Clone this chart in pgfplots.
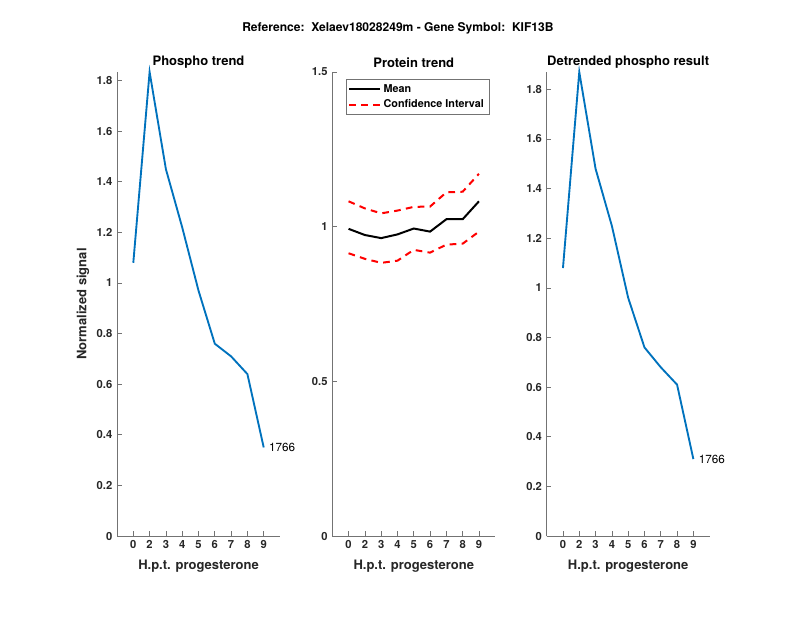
\documentclass[border=0pt]{standalone}
\usepackage{fontspec}
\setmainfont{TeX Gyre Heros}
\usepackage{pgfplots}
\pgfplotsset{compat=1.18}
\definecolor{matblue}{rgb}{0,0.447,0.741}
\definecolor{axgray}{rgb}{0.15,0.15,0.15}

\pgfplotsset{
  matpanel/.style={
    scale only axis, width=122.25pt, height=348pt,
    anchor=south west,
    axis lines*=left,
    axis line style={black!55, line width=0.5pt},
    tick align=inside, major tick length=3.5pt,
    tick style={black!55, line width=0.5pt},
    xmin=0, xmax=10, xtick={1,2,3,4,5,6,7,8,9},
    xticklabels={0,2,3,4,5,6,7,8,9},
    ymin=0, clip=false,
    /pgf/number format/assume math mode=true,
    ticklabel style={font=\bfseries\fontsize{8.4}{10}\selectfont, text=axgray},
    title style={font=\bfseries\fontsize{9.75}{11}\selectfont, text=black, yshift=-6.5pt},
    xlabel={H.p.t. progesterone},
    xlabel style={font=\bfseries\fontsize{9.75}{11}\selectfont, text=axgray,
      at={(axis description cs:0.5,0)}, anchor=center, yshift=-22.3pt},
  }
}

\begin{document}
\begin{tikzpicture}
\path (0,0) rectangle (600pt,463.5pt);

% phospho trend
\begin{axis}[matpanel, at={(87.75pt,61.5pt)},
  ymax=1.834, ytick={0,0.2,0.4,0.6,0.8,1,1.2,1.4,1.6,1.8},
  title={Phospho trend},
  ylabel={Normalized signal},
  ylabel style={font=\bfseries\fontsize{9.75}{11}\selectfont, text=axgray,
    at={(axis description cs:-0.209,0.5)}, anchor=center}]
\addplot[matblue, line width=1.4pt] coordinates {
  (1,1.08) (2,1.834) (3,1.45) (4,1.22) (5,0.97) (6,0.76) (7,0.71) (8,0.64) (9,0.35)}
  node[pos=1, anchor=west, xshift=0pt, font=\fontsize{8.8}{10}\selectfont, text=black] {1766};
\end{axis}

% protein trend
\begin{axis}[matpanel, at={(249.2pt,61.5pt)},
  ymax=1.5, ytick={0,0.5,1,1.5},
  title={Protein trend},
  legend style={at={(0.082,0.985)}, anchor=north west, draw=black!55,
    font=\bfseries\fontsize{8.1}{9.5}\selectfont, inner sep=1.8pt, row sep=0pt},
  legend cell align=left,
  legend image code/.code={\draw[#1] (0pt,0pt) -- (23pt,0pt);}]
\addplot[black, line width=1.5pt] coordinates {
  (1,0.993) (2,0.973) (3,0.963) (4,0.975) (5,0.994) (6,0.984) (7,1.024) (8,1.024) (9,1.082)};
\addlegendentry{Mean}
\addplot[red, line width=1.5pt, dash pattern=on 5pt off 4pt] coordinates {
  (1,1.082) (2,1.059) (3,1.043) (4,1.052) (5,1.064) (6,1.065) (7,1.111) (8,1.113) (9,1.171)};
\addlegendentry{Confidence Interval}
\addplot[red, line width=1.5pt, dash pattern=on 5pt off 4pt, forget plot] coordinates {
  (1,0.914) (2,0.896) (3,0.883) (4,0.890) (5,0.925) (6,0.916) (7,0.942) (8,0.945) (9,0.984)};
\end{axis}

% detrended
\begin{axis}[matpanel, at={(410pt,61.5pt)},
  ymax=1.87, ytick={0,0.2,0.4,0.6,0.8,1,1.2,1.4,1.6,1.8},
  title={Detrended phospho result}]
\addplot[matblue, line width=1.4pt] coordinates {
  (1,1.08) (2,1.87) (3,1.48) (4,1.25) (5,0.96) (6,0.76) (7,0.68) (8,0.61) (9,0.31)}
  node[pos=1, anchor=west, xshift=0pt, font=\fontsize{8.8}{10}\selectfont, text=black] {1766};
\end{axis}

\node[anchor=west, inner sep=0pt, font=\bfseries\fontsize{9.05}{10}\selectfont] at (181.5pt,442.5pt)
  {Reference:\ \ Xelaev18028249m - Gene Symbol:\ \ KIF13B};
\end{tikzpicture}
\end{document}
